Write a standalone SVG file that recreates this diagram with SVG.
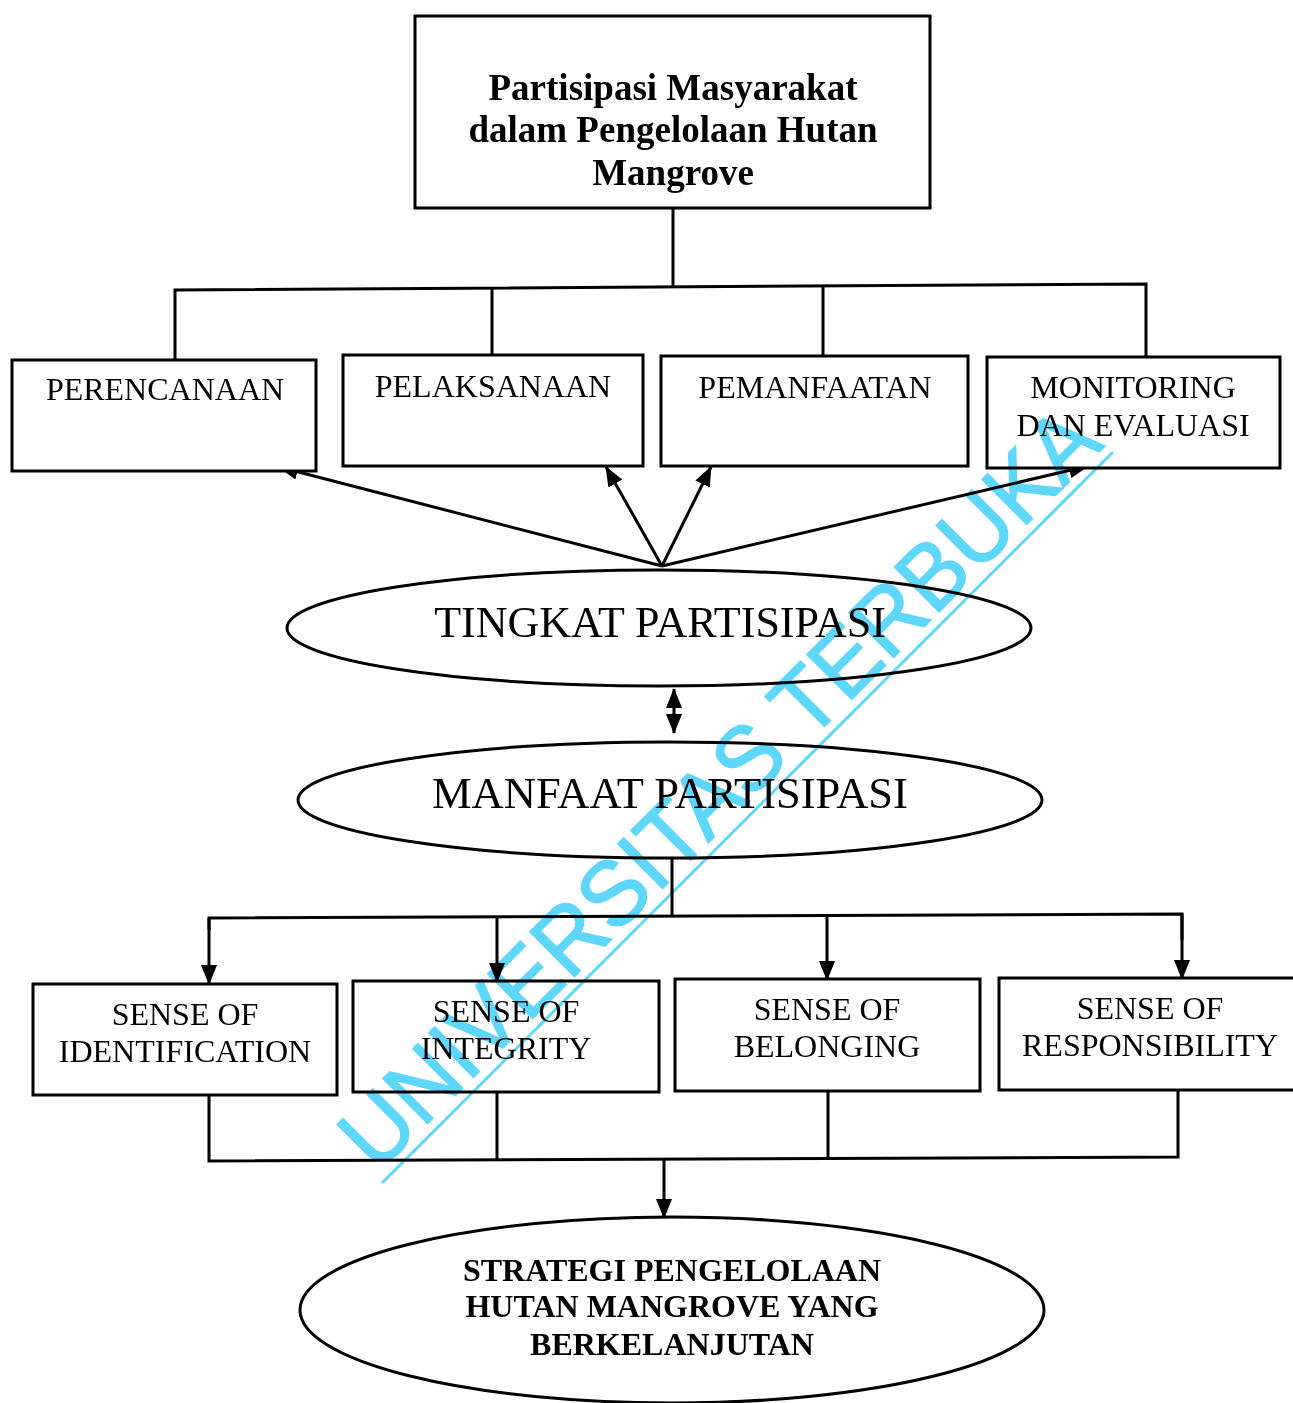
<svg xmlns="http://www.w3.org/2000/svg" width="1293" height="1403" viewBox="0 0 1293 1403">
<defs>
<marker id="ah" markerUnits="userSpaceOnUse" markerWidth="20" markerHeight="16" refX="19" refY="8" orient="auto-start-reverse">
<path d="M0,0 L20,8 L0,16 Z" fill="#000"/>
</marker>
<style>
.box{fill:#fff;stroke:#000;stroke-width:3}
.ell{fill:#fff;stroke:#000;stroke-width:3}
.ln{fill:none;stroke:#000;stroke-width:3}
.ar{fill:none;stroke:#000;stroke-width:3;marker-end:url(#ah)}
.t{font-family:"Liberation Serif","Times New Roman",serif;fill:#000;text-anchor:middle}
.tb{font-family:"Liberation Serif","Times New Roman",serif;font-weight:bold;fill:#000;text-anchor:middle}
.wm{font-family:"Liberation Sans",Arial,sans-serif;fill:#5fd6fb;stroke:#5fd6fb;stroke-width:1.5;mix-blend-mode:multiply}
</style>
</defs>
<rect width="1293" height="1403" fill="#fff"/>

<g id="connectors">
<polyline class="ln" points="673,208 673,286"/>
<polyline class="ln" points="175,360 175,290 1146,284 1146,357"/>
<line class="ln" x1="492" y1="288" x2="492" y2="355"/>
<line class="ln" x1="823" y1="286" x2="823" y2="356"/>
<line class="ar" x1="662" y1="566" x2="279" y2="467"/>
<line class="ar" x1="662" y1="566" x2="606" y2="467"/>
<line class="ar" x1="662" y1="566" x2="711" y2="467"/>
<line class="ar" x1="662" y1="566" x2="1088" y2="466"/>
<line class="ar" x1="674" y1="689" x2="674" y2="733" style="marker-start:url(#ah)"/>
<line class="ln" x1="672" y1="858" x2="672" y2="916"/>
<polyline class="ln" points="209,930 209,918 1182,914 1182,940"/>
<line class="ar" x1="209" y1="918" x2="209" y2="984"/>
<line class="ar" x1="497" y1="917" x2="497" y2="982"/>
<line class="ar" x1="827" y1="916" x2="827" y2="980"/>
<line class="ar" x1="1182" y1="914" x2="1182" y2="979"/>
<polyline class="ln" points="209,1095 209,1161 1178,1157 1178,1090"/>
<line class="ln" x1="497" y1="1092" x2="497" y2="1160"/>
<line class="ln" x1="828" y1="1091" x2="828" y2="1158"/>
<line class="ar" x1="664" y1="1160" x2="664" y2="1218"/>
</g>

<g id="n-title">
<rect class="box" x="415" y="16" width="515" height="192"/>
<text class="tb" x="673" y="100" font-size="37">Partisipasi Masyarakat</text>
<text class="tb" x="673" y="142" font-size="37">dalam Pengelolaan Hutan</text>
<text class="tb" x="673" y="185" font-size="37">Mangrove</text>
</g>

<g id="n-perencanaan">
<rect class="box" x="12" y="360" width="304" height="111"/>
<text class="t" x="165" y="400" font-size="32">PERENCANAAN</text>
</g>
<g id="n-pelaksanaan">
<rect class="box" x="343" y="355" width="300" height="111"/>
<text class="t" x="493" y="397" font-size="32">PELAKSANAAN</text>
</g>
<g id="n-pemanfaatan">
<rect class="box" x="661" y="356" width="307" height="110"/>
<text class="t" x="815" y="398" font-size="32">PEMANFAATAN</text>
</g>
<g id="n-monitoring">
<rect class="box" x="987" y="357" width="293" height="111"/>
<text class="t" x="1133" y="398" font-size="32">MONITORING</text>
<text class="t" x="1133" y="436" font-size="32">DAN EVALUASI</text>
</g>

<g id="n-tingkat">
<ellipse class="ell" cx="659" cy="628" rx="372" ry="58"/>
<text class="t" x="660" y="637" font-size="44">TINGKAT PARTISIPASI</text>
</g>
<g id="n-manfaat">
<ellipse class="ell" cx="670" cy="800" rx="372" ry="58"/>
<text class="t" x="670" y="808" font-size="44.5">MANFAAT PARTISIPASI</text>
</g>

<g id="n-identification">
<rect class="box" x="33" y="984" width="304" height="111"/>
<text class="t" x="185" y="1025" font-size="32">SENSE OF</text>
<text class="t" x="185" y="1062" font-size="32">IDENTIFICATION</text>
</g>
<g id="n-integrity">
<rect class="box" x="353" y="981" width="306" height="111"/>
<text class="t" x="506" y="1022" font-size="32">SENSE OF</text>
<text class="t" x="506" y="1059" font-size="32">INTEGRITY</text>
</g>
<g id="n-belonging">
<rect class="box" x="675" y="979" width="305" height="112"/>
<text class="t" x="827" y="1020" font-size="32">SENSE OF</text>
<text class="t" x="827" y="1057" font-size="32">BELONGING</text>
</g>
<g id="n-responsibility">
<rect class="box" x="999" y="978" width="300" height="112"/>
<text class="t" x="1150" y="1019" font-size="32">SENSE OF</text>
<text class="t" x="1150" y="1056" font-size="32">RESPONSIBILITY</text>
</g>

<g id="n-strategi">
<ellipse class="ell" cx="672" cy="1310" rx="372" ry="93"/>
<text class="tb" x="672" y="1281" font-size="32">STRATEGI PENGELOLAAN</text>
<text class="tb" x="672" y="1317" font-size="32">HUTAN MANGROVE YANG</text>
<text class="tb" x="672" y="1355" font-size="32">BERKELANJUTAN</text>
</g>

<g id="watermark">
<text class="wm" x="377" y="1174" font-size="92" textLength="1030" lengthAdjust="spacingAndGlyphs" transform="rotate(-45 377 1174)">UNIVERSITAS TERBUKA</text>
<line x1="382" y1="1183" x2="1113" y2="452" stroke="#5fd6fb" stroke-width="3" style="mix-blend-mode:multiply"/>
</g>
</svg>
